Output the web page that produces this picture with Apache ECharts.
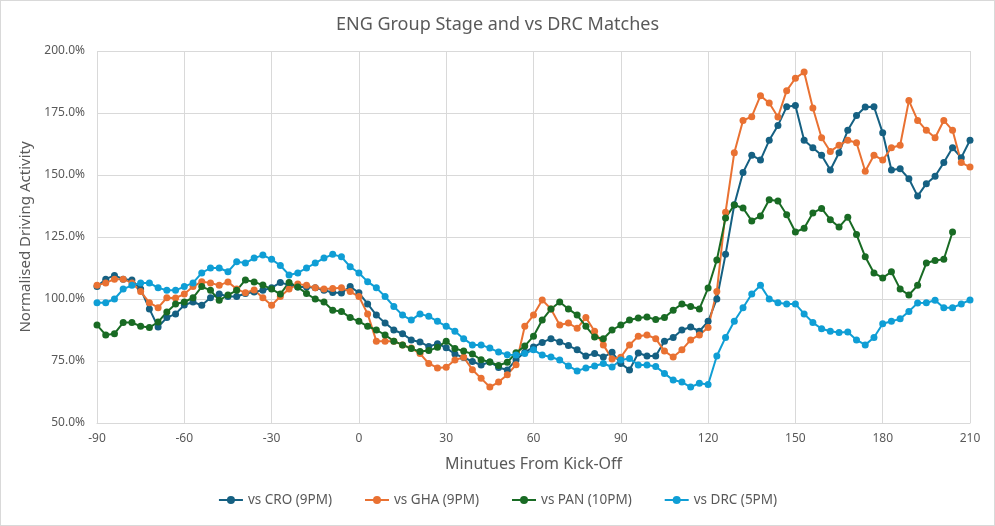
<!DOCTYPE html>
<html>
<head>
<meta charset="utf-8">
<script src="https://cdn.jsdelivr.net/npm/echarts@6/dist/echarts.min.js"></script>
<style>
  html, body { margin: 0; padding: 0; background: #fff; }
  #chart { width: 995px; height: 526px; box-sizing: border-box; border: 1px solid #d9d9d9; }
</style>
</head>
<body>
<div id="chart"></div>
<script>
// minutes from kick-off, sampled every 3 minutes
const minutes = [];
for (let t = -90; t <= 210; t += 3) minutes.push(t);

const seriesNames = ['vs CRO (9PM)', 'vs GHA (9PM)', 'vs PAN (10PM)', 'vs DRC (5PM)'];

// values in % of normal driving activity
const cro = [
  105, 108, 109.5, 108, 107.7, 104, 96, 88.7, 92.5, 94,
  97.6, 98.8, 97.5, 100.5, 102, 101, 101, 102.2, 102.8, 103.5,
  104.5, 106.7, 105.6, 104.8, 104.8, 104.5, 103.5, 102.6, 102.4, 105,
  102.5, 98, 93.5, 90.3, 87.5, 86, 83.5, 82.7, 80.8, 82,
  80.3, 77.8, 76.4, 74.8, 73.4, 74.6, 72.4, 71.4, 75.5, 78.5,
  80.6, 82.5, 84, 82.7, 81.2, 79.5, 77, 78, 76.6, 78.5,
  74, 71.4, 78.2, 77, 77, 83, 84.5, 87.5, 88.7, 87,
  91, 100, 118, 138, 151, 158, 156, 164, 170, 177.5,
  178, 164, 161, 158, 152, 159, 168, 174, 177.4, 177.5,
  167, 152, 152.5, 148.5, 141.5, 146.5, 149.5, 155, 161, 157,
  164
];
const gha = [
  105.5, 106.5, 108, 108, 106.5, 103, 98.5, 96.5, 100.5, 100.4,
  102, 105, 107, 106.5, 105.5, 106.9, 104, 102.5, 103.6, 100.5,
  97.5, 101, 104, 106, 105.5, 104.5, 104, 104.2, 104.5, 103,
  101, 94, 83, 83, 83, 81.5, 80.2, 78, 74, 72.2,
  72.5, 75.4, 76.5, 71.5, 68, 64.5, 66.5, 69.5, 73.5, 89,
  93.5, 99.6, 96, 89.5, 90.3, 88.2, 92.5, 87, 81.5, 75.8,
  76.5, 81.5, 85, 85.5, 84, 79, 76.6, 79.5, 83.5, 85.5,
  88.5, 103, 135, 159, 172, 173.5, 182, 179, 173.4, 184,
  189, 191.5, 177, 165, 159.5, 162, 164, 163, 151.5, 158,
  156, 161, 162, 180, 172, 168, 165, 172, 168, 155,
  153.2
];
const pan = [
  89.5, 85.5, 86, 90.5, 90.5, 89, 88.5, 90.7, 94.8, 98,
  98.8, 100.5, 105, 103.5, 99.5, 101.6, 103.5, 107.7, 106.9, 105.6,
  104, 102, 106.7, 104.8, 102.2, 100, 98.8, 95.5, 95, 92.5,
  91, 89, 87.5, 85.5, 83, 81.5, 80, 78.8, 79.2, 80.5,
  83, 80, 79, 77.8, 75.5, 74.6, 73.2, 74.5, 78.3, 81,
  85, 91.5, 96, 98.8, 96, 93.5, 89, 84.7, 84, 87.5,
  89.5, 91.5, 92.3, 92.7, 91.7, 92.5, 95.5, 98, 97, 96,
  104.4, 115.7, 132.7, 137.9, 136.7, 131.5, 133.5, 140, 139.5, 134,
  127, 128.5, 134.7, 136.5, 132, 129, 133, 126, 117, 110.5,
  108.5, 111, 104, 101.6, 105.5, 114.5, 115.5, 116, 127
];
const drc = [
  98.5, 98.5, 100, 104, 105.5, 106.5, 106.5, 104.5, 103.5, 103.5,
  105, 106.5, 110.5, 112.5, 112.5, 111, 115, 114.5, 116.5, 117.7,
  116, 113.5, 109.7, 110.5, 112.5, 114.5, 116.5, 118, 117, 113,
  110.5, 107, 104.5, 101, 97, 93.5, 91.5, 94, 93, 91,
  89, 87, 84, 81.5, 81.5, 80.2, 78.6, 77.5, 77.4, 78,
  79.5, 77.4, 76.6, 75.4, 73, 71, 72.2, 73, 74, 72.6,
  75.4, 76, 73.4, 73.4, 72.8, 70, 67.3, 66.5, 64.5, 66,
  65.5, 77, 84.5, 91, 96.5, 102, 105.5, 100, 98.5, 98,
  98, 94, 90.5, 88, 87, 86.5, 86.7, 83.5, 81.5, 84.5,
  90, 91, 92, 95, 98.4, 98.5, 99.5, 96.5, 96.5, 98,
  99.6
];

const colors = ['#156082', '#E97132', '#196B24', '#0F9ED5'];
const allValues = [cro, gha, pan, drc];

const textColor = '#595959';
const font = 'Noto Sans';

function pairs(values) {
  return values.map((v, i) => [minutes[i], v]);
}

const chart = echarts.init(document.getElementById('chart'), null, { renderer: 'canvas' });

const option = {
  animation: false,
  color: colors,
  textStyle: { fontFamily: font },
  title: {
    text: 'ENG Group Stage and vs DRC Matches',
    left: 'center',
    top: 10,
    textStyle: { color: textColor, fontSize: 18, fontWeight: 'normal', fontFamily: font }
  },
  legend: {
    bottom: 13,
    left: 'center',
    itemWidth: 24,
    itemHeight: 10,
    itemGap: 32,
    textStyle: { color: textColor, fontSize: 13.5, fontFamily: font },
    data: seriesNames
  },
  grid: { left: 96, right: 24, top: 50, bottom: 102 },
  xAxis: {
    type: 'value',
    min: -90,
    max: 210,
    interval: 30,
    name: 'Minutues From Kick-Off',
    nameLocation: 'middle',
    nameGap: 33,
    nameTextStyle: { color: textColor, fontSize: 16, fontFamily: font },
    axisLine: { show: true, lineStyle: { color: '#d9d9d9' } },
    axisTick: { show: false },
    axisLabel: { color: textColor, fontSize: 12, margin: 10 },
    splitLine: { show: true, lineStyle: { color: '#d9d9d9' } }
  },
  yAxis: {
    type: 'value',
    min: 50,
    max: 200,
    interval: 25,
    name: 'Normalised Driving Activity',
    nameLocation: 'middle',
    nameGap: 58,
    nameTextStyle: { color: textColor, fontSize: 15, fontFamily: font },
    axisLine: { show: false },
    axisTick: { show: false },
    axisLabel: { color: textColor, fontSize: 12, margin: 12, formatter: v => v.toFixed(1) + '%' },
    splitLine: { lineStyle: { color: '#d9d9d9' } }
  },
  series: seriesNames.map((name, k) => ({
    name: name,
    type: 'line',
    data: pairs(allValues[k]),
    symbol: 'circle',
    symbolSize: 7,
    showAllSymbol: true,
    lineStyle: { width: 2, color: colors[k] },
    itemStyle: { color: colors[k] }
  }))
};

chart.setOption(option);
</script>
</body>
</html>
